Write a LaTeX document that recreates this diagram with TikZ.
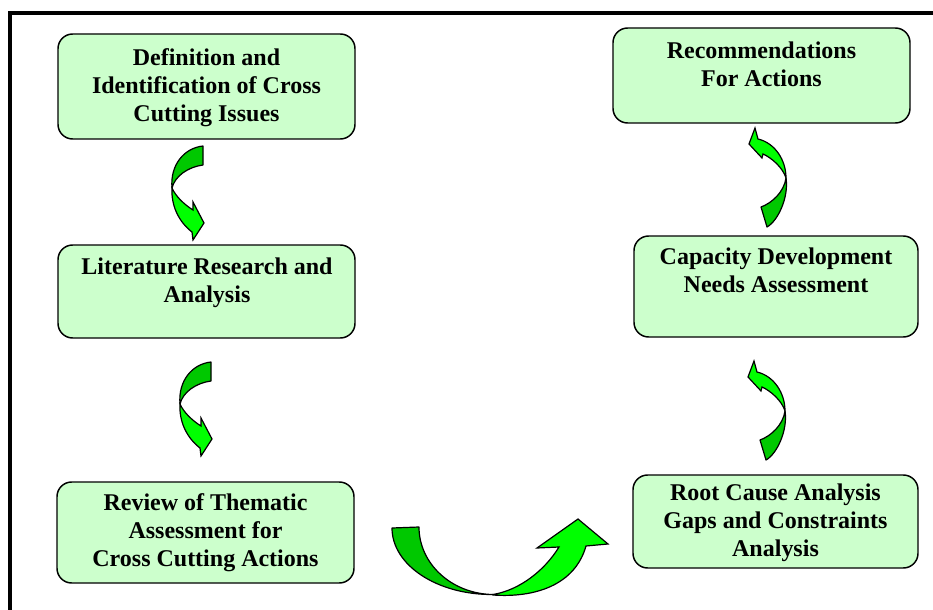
\documentclass[tikz,border=0pt]{standalone}
\usepackage{fontspec}
\setmainfont{Liberation Serif}
\definecolor{boxgreen}{HTML}{CCFFCC}
\definecolor{ribbondark}{HTML}{00C800}
\definecolor{ribbonlight}{HTML}{00FF00}
\begin{document}
\begin{tikzpicture}[x=0.75pt,y=-0.75pt,
  stage/.style={draw=black, line width=1.1pt, fill=boxgreen, rounded corners=11pt,
                minimum width=#1*0.75pt, inner sep=0pt},
  stage/.default=297,
  caption/.style={font=\bfseries\fontsize{18}{21}\selectfont, align=center, inner sep=0pt},
  ribbonback/.style={draw=black, line width=0.9pt, fill=ribbondark, line join=round},
  ribbonfront/.style={draw=black, line width=0.9pt, fill=ribbonlight, line join=miter}]
\useasboundingbox (0,0) rectangle (933,610);

% outer frame (only the top and left edges fall inside the page)
\coordinate (frameSW) at (10,615);
\coordinate (frameNW) at (10,13);
\coordinate (frameNE) at (940,13);
\draw[line width=2.6pt] (frameSW) -- (frameNW) -- (frameNE);

% left column of stages
\node[stage, minimum height=105*0.75pt] (def) at (206.5,86.5) {};
\node[caption] (defT) at (206.5,87.5) {Definition and\\Identification of Cross\\Cutting Issues};

\node[stage, minimum height=93*0.75pt] (lit) at (206.5,291.5) {};
\node[caption] (litT) at (207,282.5) {Literature Research and\\Analysis};

\node[stage, minimum height=101*0.75pt] (rev) at (205.5,532.5) {};
\node[caption] (revT) at (205.5,533) {Review of Thematic\\Assessment for\\Cross Cutting Actions};

% right column of stages
\node[stage=285, minimum height=93*0.75pt] (root) at (775.5,521.5) {};
\node[caption] (rootT) at (775.5,523) {Root Cause Analysis\\Gaps and Constraints\\Analysis};

\node[stage=284, minimum height=101*0.75pt] (cap) at (776,286.5) {};
\node[caption] (capT) at (776,270.5) {Capacity Development\\Needs Assessment};

\node[stage, minimum height=95*0.75pt] (rec) at (761.5,75.5) {};
\node[caption] (recT) at (761.5,64) {Recommendations\\For Actions};

% twisted ribbon arrow pointing down (left column)
\newcommand{\downribbon}{%
  \path[ribbonback] (172,188) .. controls (170,165) and (184,148) .. (203,146)
     -- (203,165) .. controls (188,167) and (175,176) .. (172,188) -- cycle;
  \path[ribbonfront] (172,188) .. controls (176,197) and (185,205) .. (193,210)
     -- (193,202) -- (204,223) -- (193,240) -- (192,232)
     .. controls (179,222) and (171,206) .. (172,188) -- cycle;}
% twisted ribbon arrow pointing up (right column)
\newcommand{\upribbon}{%
  \path[ribbonback] (786,178) .. controls (789,197) and (778,221) .. (767,227)
     -- (761,207) .. controls (772,203) and (784,192) .. (786,178) -- cycle;
  \path[ribbonfront] (786,178) .. controls (786,160) and (775,143) .. (758,139)
     -- (755,128) -- (749,144) -- (762,158) -- (763,154)
     .. controls (772,158) and (783,168) .. (786,178) -- cycle;}

\begin{scope}\downribbon\end{scope}
\begin{scope}[shift={(8,216)}]\downribbon\end{scope}
\begin{scope}\upribbon\end{scope}
\begin{scope}[shift={(-1,233)}]\upribbon\end{scope}

% large U-turn arrow between the columns
\path[ribbonback] (392,528) -- (419,527) .. controls (419,564) and (452,594) .. (493,594.5)
   .. controls (437,595) and (392,565) .. (392,528) -- cycle;
\path[ribbonfront] (493,594.5) .. controls (520,590) and (545,570) .. (559,547)
   -- (537,548) -- (578,519) -- (608,544) -- (586,546)
   .. controls (575,585) and (535,598) .. (493,595) -- cycle;
\end{tikzpicture}
\end{document}
